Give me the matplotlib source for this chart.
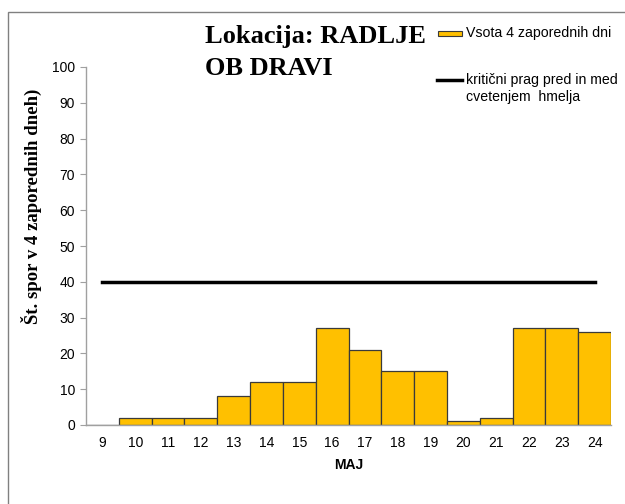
import matplotlib

matplotlib.use("Agg")
import matplotlib.pyplot as plt
from matplotlib.lines import Line2D
from matplotlib.patches import Rectangle

days = ["9", "10", "11", "12", "13", "14", "15", "16", "17", "18", "19", "20", "21", "22", "23", "24"]
spores = [0, 2, 2, 2, 8, 12, 12, 27, 21, 15, 15, 1, 2, 27, 27, 26]
threshold = [40] * len(days)
yticks = list(range(0, 101, 10))

BAR = "#FFC000"
W, H = 625, 504


def fx(px):
    return px / W


def fy(py):
    # pixel rows counted from the top
    return 1 - py / H


plt.rcParams["font.family"] = ["Liberation Sans", "DejaVu Sans"]

fig = plt.figure(figsize=(6.25, 5.04), dpi=100)
ax = fig.add_axes([fx(86), fy(425), fx(611 - 86), (425 - 67) / H])

x = list(range(len(days)))
ax.bar(x, spores, width=1.0, color=BAR, edgecolor="#3a3a3a", linewidth=0.9, zorder=2)
ax.plot(x, threshold, color="black", linewidth=2.5, zorder=3)

ax.set_xlim(-0.5, len(days) - 0.5)
ax.set_ylim(0, 100)
ax.set_xticks(x)
ax.set_xticklabels(days, fontsize=10)
ax.set_yticks(yticks)
ax.tick_params(axis="y", labelsize=10, length=4, color="#a0a0a0", pad=4)
ax.tick_params(axis="x", length=0, pad=8)
for s in ("top", "right"):
    ax.spines[s].set_visible(False)
for s in ("left", "bottom"):
    ax.spines[s].set_color("#a0a0a0")
    ax.spines[s].set_linewidth(1)

ax.set_xlabel("MAJ", fontsize=10, fontweight="bold", labelpad=6)
# y label sits above the axes centre in the original, so place it by hand
fig.text(fx(31), fy(206), "Št. spor v 4 zaporednih dneh)", rotation=90, fontsize=13.5,
         fontweight="bold", family="Liberation Serif", ha="center", va="center")

# title, two lines
for txt, base in (("Lokacija: RADLJE", 43), ("OB DRAVI", 75)):
    fig.text(fx(205), fy(base), txt, fontsize=19, fontweight="bold",
             family="Liberation Serif", ha="left", va="baseline")

# legend drawn by hand so the line sits on the first text row
fig.add_artist(Rectangle((fx(438), fy(36)), fx(24), 5.5 / H, transform=fig.transFigure,
                         facecolor=BAR, edgecolor="#3a3a3a", linewidth=0.8))
fig.text(fx(466), fy(33), "Vsota 4 zaporednih dni", fontsize=10.2, ha="left", va="center")
fig.add_artist(Line2D([fx(437), fx(462)], [fy(80), fy(80)], transform=fig.transFigure,
                      color="black", linewidth=2.5))
fig.text(fx(466), fy(80), "kritični prag pred in med", fontsize=10.2, ha="left", va="center")
fig.text(fx(466), fy(97), "cvetenjem  hmelja", fontsize=10.2, ha="left", va="center")

fig.add_artist(Rectangle((fx(8), -0.1), 1.2, 1.1 - 12 / H, transform=fig.transFigure,
                         fill=False, edgecolor="#808080", linewidth=1))

fig.savefig("out.png", dpi=100, facecolor="white")
